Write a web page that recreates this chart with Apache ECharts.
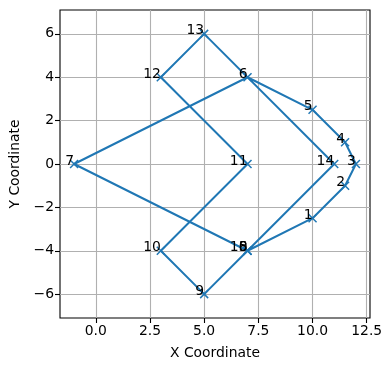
<!DOCTYPE html>
<html>
<head>
<meta charset="utf-8">
<script src="https://cdn.jsdelivr.net/npm/echarts@6/dist/echarts.min.js"></script>
<style>html,body{margin:0;padding:0;background:#fff}#c{width:391px;height:371px}</style>
</head>
<body>
<div id="c"></div>
<script>
const pointLabels = ['0','1','2','3','4','5','6','7','8','9','10','11','12','13','14','15'];
const xValues = [7, 10, 11.5, 12, 11.5, 10, 7, -1, 7, 5, 3, 7, 3, 5, 11, 7];
const yValues = [-4, -2.5, -1, 0, 1, 2.5, 4, 0, -4, -6, -4, 0, 4, 6, 0, -4];
const xTicks = [0, 2.5, 5, 7.5, 10, 12.5];
const yTicks = [-6, -4, -2, 0, 2, 4, 6];

const data = xValues.map((x, i) => ({value: [x, yValues[i]], name: pointLabels[i]}));
const font = 'DejaVu Sans';
const fmtNum = s => s.replace('-', '\u2212');
const chart = echarts.init(document.getElementById('c'), null, {renderer: 'canvas'});
chart.setOption({
  animation: false,
  grid: {left: 60, right: 21, top: 10, bottom: 53, show: true, borderColor: '#000', borderWidth: 1.1, backgroundColor: 'transparent'},
  xAxis: {
    type: 'value', min: -1.65, max: 12.65,
    name: 'X Coordinate', nameLocation: 'middle', nameGap: 28,
    nameTextStyle: {fontFamily: font, fontSize: 13.9, color: '#000'},
    axisLine: {show: false, onZero: false},
    axisTick: {show: true, inside: false, length: 5, lineStyle: {color: '#000', width: 1.1}, customValues: xTicks},
    axisLabel: {fontFamily: font, fontSize: 13.9, color: '#000', margin: 6, customValues: xTicks,
      formatter: v => fmtNum(v.toFixed(1))},
    splitLine: {show: true, lineStyle: {color: '#b0b0b0', width: 1.1}}
  },
  yAxis: {
    type: 'value', min: -7.1, max: 7.1,
    name: 'Y Coordinate', nameLocation: 'middle', nameGap: 38, nameRotate: 90,
    nameTextStyle: {fontFamily: font, fontSize: 13.9, color: '#000'},
    axisLine: {show: false, onZero: false},
    axisTick: {show: true, inside: false, length: 5, lineStyle: {color: '#000', width: 1.1}, customValues: yTicks},
    axisLabel: {fontFamily: font, fontSize: 13.9, color: '#000', margin: 6, customValues: yTicks,
      formatter: v => fmtNum(String(v))},
    splitLine: {show: true, lineStyle: {color: '#b0b0b0', width: 1.1}}
  },
  series: [{
    type: 'line',
    data: data,
    lineStyle: {color: '#1f77b4', width: 2},
    symbol: 'path://M0,0L10,10M10,0L0,10',
    symbolSize: 8,
    itemStyle: {color: '#1f77b4', borderColor: '#1f77b4', borderWidth: 1.5},
    label: {
      show: true,
      formatter: p => p.name,
      position: ['50%', '50%'],
      align: 'right', verticalAlign: 'bottom',
      offset: [0, 4],
      distance: 0,
      fontFamily: font, fontSize: 13.9, color: '#000'
    },
    z: 3
  }]
});
</script>
</body>
</html>
